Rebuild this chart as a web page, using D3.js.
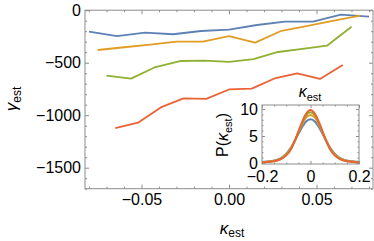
<!DOCTYPE html>
<html>
<head>
<meta charset="utf-8">
<script src="https://cdn.jsdelivr.net/npm/d3@7"></script>
<style>
  body { margin: 0; background: #fff; }
  text { font-family: "Liberation Sans", Arial, sans-serif; fill: #000; }
</style>
</head>
<body>
<svg id="chart" width="374" height="241"></svg>
<script>
// main panel: gamma_est vs kappa_est, four series
const blueK   = [-0.08, -0.064, -0.048, -0.032, -0.016, 0, 0.016, 0.032, 0.048, 0.064, 0.08];
const blueG   = [-205, -246, -214, -229, -198, -185, -141, -109, -109, -43, -62];
const orangeK = [-0.075, -0.06, -0.045, -0.03, -0.015, 0, 0.015, 0.03, 0.045, 0.06, 0.075];
const orangeG = [-379, -353, -328, -300, -300, -246, -309, -196, -149, -100, -52];
const greenK  = [-0.07, -0.056, -0.042, -0.028, -0.014, 0, 0.014, 0.028, 0.042, 0.056, 0.07];
const greenG  = [-624, -652, -541, -484, -481, -493, -465, -398, -369, -338, -157];
const redK    = [-0.065, -0.052, -0.039, -0.026, -0.013, 0, 0.013, 0.026, 0.039, 0.052, 0.065];
const redG    = [-1124, -1071, -926, -839, -845, -755, -747, -650, -601, -655, -522];

const xTicks = [-0.05, 0, 0.05];
const yTicks = [0, -500, -1000, -1500];

// inset: distributions P(kappa_est)
const pK      = [-0.2, -0.18, -0.16, -0.14, -0.12, -0.1, -0.08, -0.06, -0.04, -0.02, 0,
                  0.02, 0.04, 0.06, 0.08, 0.1, 0.12, 0.14, 0.16, 0.18, 0.2];
const pBlue   = [0.2, 0.25, 0.35, 0.55, 0.95, 1.7, 2.9, 4.5, 6.2, 7.6, 8.1,
                  7.6, 6.2, 4.5, 2.9, 1.7, 0.95, 0.55, 0.35, 0.25, 0.2];
const pOrange = [0.15, 0.2, 0.3, 0.5, 0.85, 1.6, 2.8, 4.6, 6.6, 8.3, 8.9,
                  8.3, 6.6, 4.6, 2.8, 1.6, 0.85, 0.5, 0.3, 0.2, 0.15];
const pGreen  = [0.12, 0.18, 0.28, 0.45, 0.8, 1.5, 2.7, 4.6, 6.8, 8.7, 9.4,
                  8.7, 6.8, 4.6, 2.7, 1.5, 0.8, 0.45, 0.28, 0.18, 0.12];
const pRed    = [0.1, 0.15, 0.25, 0.4, 0.75, 1.4, 2.6, 4.6, 7.0, 9.0, 9.8,
                  9.0, 7.0, 4.6, 2.6, 1.4, 0.75, 0.4, 0.25, 0.15, 0.1];
const insetXTicks = [-0.2, 0, 0.2];
const insetYTicks = [0, 5, 10];

const colors = ['#5E81B5', '#E19C24', '#8FB032', '#EB6235'];
const frameColor = '#8c8c8c';

const svg = d3.select('#chart');

// frame with inward ticks on all four sides
function drawFrame(g, xScale, yScale, xMajor, xMinor, yMajor, yMinor, xFmt, yFmt, majorLen, minorLen, xPad) {
    const [x0, x1] = xScale.range();
    const [y0, y1] = yScale.range();
    const put = (axis, tr) => {
        const a = g.append('g').attr('transform', tr).call(axis);
        a.select('.domain').remove();
        a.selectAll('line').attr('stroke', frameColor);
        return a;
    };
    // bottom / top
    put(d3.axisBottom(xScale).tickValues(xMajor).tickSize(-majorLen).tickPadding(xPad).tickFormat(xFmt), `translate(0,${y0})`)
        .selectAll('text').attr('font-size', 16);
    put(d3.axisBottom(xScale).tickValues(xMinor).tickSize(-minorLen).tickFormat(''), `translate(0,${y0})`);
    put(d3.axisTop(xScale).tickValues(xMajor).tickSize(-majorLen).tickFormat(''), `translate(0,${y1})`);
    put(d3.axisTop(xScale).tickValues(xMinor).tickSize(-minorLen).tickFormat(''), `translate(0,${y1})`);
    // left / right
    put(d3.axisLeft(yScale).tickValues(yMajor).tickSize(-majorLen).tickPadding(4).tickFormat(yFmt), `translate(${x0},0)`)
        .selectAll('text').attr('font-size', 16);
    put(d3.axisLeft(yScale).tickValues(yMinor).tickSize(-minorLen).tickFormat(''), `translate(${x0},0)`);
    put(d3.axisRight(yScale).tickValues(yMajor).tickSize(-majorLen).tickFormat(''), `translate(${x1},0)`);
    put(d3.axisRight(yScale).tickValues(yMinor).tickSize(-minorLen).tickFormat(''), `translate(${x1},0)`);
    g.append('rect')
        .attr('x', x0).attr('y', y1)
        .attr('width', x1 - x0).attr('height', y0 - y1)
        .attr('fill', 'none').attr('stroke', frameColor).attr('stroke-width', 1);
}

// ---- main plot
const xScale = d3.scaleLinear().domain([-0.0823, 0.0823]).range([85, 373]);
const yScale = d3.scaleLinear().domain([-1700, 0]).range([188.7, 10.2]);

const main = svg.append('g');
const xMinor = d3.range(-8, 9).map(i => i / 100).filter(v => Math.abs(v * 100 % 5) > 1e-9);
const yMinor = d3.range(-17, 1).map(i => i * 100).filter(v => v % 500 !== 0);
drawFrame(main, xScale, yScale, xTicks, xMinor, yTicks, yMinor,
    d3.format('.2f'), d3.format('d'), 4, 2, 5);

const series = [[blueK, blueG], [orangeK, orangeG], [greenK, greenG], [redK, redG]];
const line = d3.line().x(d => xScale(d[0])).y(d => yScale(d[1]));
series.forEach(([ks, gs], i) => {
    main.append('path')
        .datum(ks.map((k, j) => [k, gs[j]]))
        .attr('d', line)
        .attr('fill', 'none')
        .attr('stroke', colors[i])
        .attr('stroke-width', 1.8)
        .attr('stroke-linejoin', 'round');
});

// axis labels
const yl = main.append('text')
    .attr('transform', 'translate(17,99) rotate(-90)')
    .attr('text-anchor', 'middle')
    .attr('font-size', 17);
yl.append('tspan').attr('font-style', 'italic').text('γ');
yl.append('tspan').attr('font-size', 12).attr('dy', 4).text('est');

const xl = main.append('text')
    .attr('x', 232).attr('y', 234)
    .attr('text-anchor', 'middle')
    .attr('font-size', 17);
xl.append('tspan').attr('font-style', 'italic').text('κ');
xl.append('tspan').attr('font-size', 12).attr('dy', 3).text('est');

// ---- inset
const ix = d3.scaleLinear().domain([-0.2, 0.2]).range([262, 359]);
const iy = d3.scaleLinear().domain([-0.2, 10.75]).range([164, 105]);

const inset = svg.append('g');
inset.append('rect').attr('x', 262).attr('y', 105).attr('width', 97).attr('height', 59).attr('fill', '#fff');
const ixMinor = d3.range(-4, 5).map(i => i / 20).filter(v => Math.abs(v * 10 % 2) > 1e-9);
const iyMinor = d3.range(0, 11).filter(v => v % 5 !== 0);
drawFrame(inset, ix, iy, insetXTicks, ixMinor, insetYTicks, iyMinor,
    d3.format('~g'), d3.format('d'), 3, 1.5, 7);

const pSeries = [pBlue, pOrange, pGreen, pRed];
const pLine = d3.line().x(d => ix(d[0])).y(d => iy(d[1])).curve(d3.curveMonotoneX);
pSeries.forEach((ps, i) => {
    inset.append('path')
        .datum(pK.map((k, j) => [k, ps[j]]))
        .attr('d', pLine)
        .attr('fill', 'none')
        .attr('stroke', colors[i])
        .attr('stroke-width', 2);
});

const il = inset.append('text')
    .attr('transform', 'translate(228,135) rotate(-90)')
    .attr('text-anchor', 'middle')
    .attr('font-size', 16);
il.append('tspan').text('P(');
il.append('tspan').attr('font-style', 'italic').text('κ');
il.append('tspan').attr('font-size', 11).attr('dy', 4).text('est');
il.append('tspan').attr('dy', -4).text(')');

const it = inset.append('text')
    .attr('x', 310).attr('y', 97)
    .attr('text-anchor', 'middle')
    .attr('font-size', 16);
it.append('tspan').attr('font-style', 'italic').text('κ');
it.append('tspan').attr('font-size', 11).attr('dy', 4).text('est');
</script>
</body>
</html>
